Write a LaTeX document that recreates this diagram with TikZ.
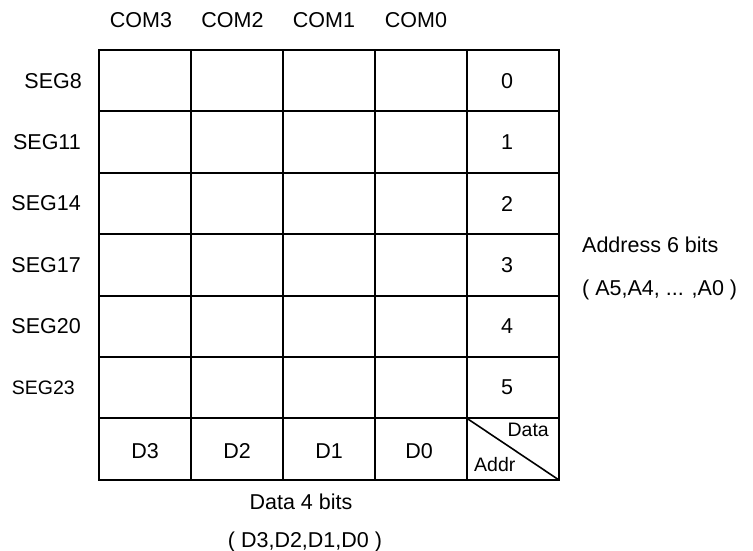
\documentclass[tikz,border=0pt]{standalone}
\usepackage{fontspec}
\setmainfont{Liberation Sans}
\usepackage{xcolor}

\begin{document}
\begin{tikzpicture}[x=1pt,y=-1pt,
	cell/.style={line width=2pt},
	txt/.style={inner sep=0pt,font=\fontsize{21.5}{24}\selectfont},
	small/.style={inner sep=0pt,font=\fontsize{19.5}{22}\selectfont}]
	\useasboundingbox (0,0) rectangle (753,551);

	% table
	\draw[cell] (99,50) rectangle (559,480);
	\foreach \y in {111.4,172.8,234.2,295.6,357,418.4}
		\draw[cell] (99,\y) -- (559,\y);
	\foreach \x in {191,283,375,467}
		\draw[cell] (\x,50) -- (\x,480);
	\draw[line width=1.6pt] (467,418.4) -- (559,480);

	% column heads
	\node[txt] (com3) at (141,20.5) {COM3};
	\node[txt] (com2) at (232.5,20.5) {COM2};
	\node[txt] (com1) at (324,20.5) {COM1};
	\node[txt] (com0) at (416,20.5) {COM0};

	% row heads
	\node[txt,anchor=east] (seg8) at (82,80.7) {SEG8};
	\node[txt,anchor=east] (seg11) at (81,142.1) {SEG11};
	\node[txt,anchor=east] (seg14) at (81,203.5) {SEG14};
	\node[txt,anchor=east] (seg17) at (81,264.9) {SEG17};
	\node[txt,anchor=east] (seg20) at (81,326.3) {SEG20};
	\node[small,anchor=east] (seg23) at (75,387.7) {SEG23};

	% addresses
	\node[txt] (a0) at (507,80.7) {0};
	\node[txt] (a1) at (507,142.1) {1};
	\node[txt] (a2) at (507,203.5) {2};
	\node[txt] (a3) at (507,264.9) {3};
	\node[txt] (a4) at (507,326.3) {4};
	\node[txt] (a5) at (507,387.7) {5};

	% data bits
	\node[txt] (d3) at (145,451) {D3};
	\node[txt] (d2) at (237,451) {D2};
	\node[txt] (d1) at (329,451) {D1};
	\node[txt] (d0) at (419,451) {D0};
	\node[small,anchor=east] (data) at (549,430) {Data};
	\node[small,anchor=west] (addr) at (474,465) {Addr};

	% notes
	\node[txt,anchor=west] (addrbits) at (582,245) {Address 6 bits};
	\node[txt,anchor=west] (addrlist) at (582,290) {( A5,A4, ... ,A0 )};
	\node[txt] (databits) at (301,502) {Data 4 bits};
	\node[txt] (datalist) at (305,542) {( D3,D2,D1,D0 )};
\end{tikzpicture}
\end{document}
